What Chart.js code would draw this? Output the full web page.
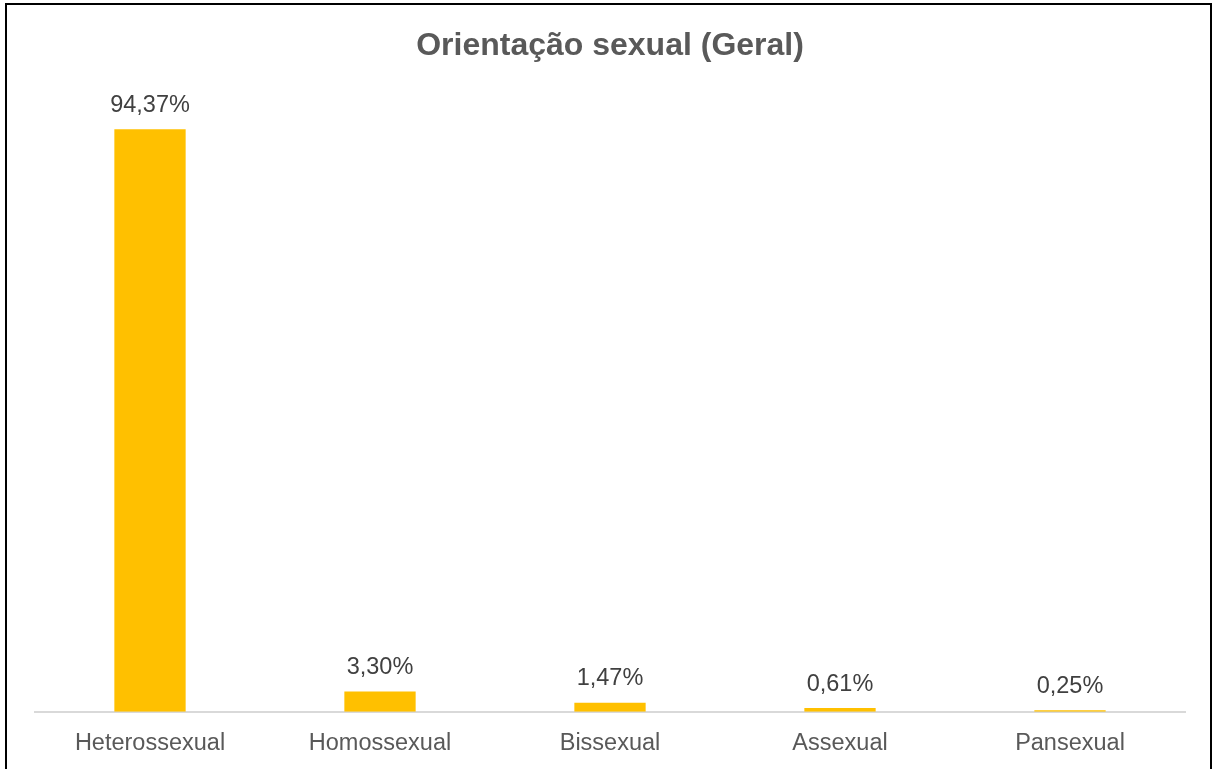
<!DOCTYPE html>
<html>
<head>
<meta charset="utf-8">
<script src="https://cdn.jsdelivr.net/npm/chart.js@4"></script>
<style>
html,body{margin:0;padding:0;background:#fff;}
#wrap{position:relative;width:1215px;height:769px;}
</style>
</head>
<body>
<div id="wrap"><canvas id="c" width="1215" height="769"></canvas></div>
<script>
const categories = ['Heterossexual', 'Homossexual', 'Bissexual', 'Assexual', 'Pansexual'];
const values = [94.37, 3.30, 1.47, 0.61, 0.25];
const chartTitle = 'Orientação sexual (Geral)';

const fontFamily = '"Liberation Sans", Arial, sans-serif';

const labelPlugin = {
  id: 'valueLabels',
  afterDatasetsDraw(chart) {
    const ctx = chart.ctx;
    const meta = chart.getDatasetMeta(0);
    ctx.save();
    ctx.font = '23.5px ' + fontFamily;
    ctx.fillStyle = '#404040';
    ctx.textAlign = 'center';
    ctx.textBaseline = 'middle';
    meta.data.forEach((bar, i) => {
      const txt = values[i].toFixed(2).replace('.', ',') + '%';
      ctx.fillText(txt, bar.x, bar.y - 24);
    });
    ctx.restore();
  }
};

const framePlugin = {
  id: 'frame',
  afterDraw(chart) {
    const ctx = chart.ctx;
    ctx.save();
    ctx.strokeStyle = '#000';
    ctx.lineWidth = 2;
    ctx.strokeRect(6, 4, 1205, 800);
    ctx.restore();
  }
};

new Chart(document.getElementById('c'), {
  type: 'bar',
  data: {
    labels: categories,
    datasets: [{
      data: values,
      backgroundColor: '#FFC000',
      borderWidth: 0,
      barPercentage: 0.31,
      categoryPercentage: 1.0
    }]
  },
  options: {
    responsive: false,
    animation: false,
    devicePixelRatio: 1,
    layout: { padding: { top: 3, left: 35, right: 30, bottom: -7 } },
    plugins: {
      legend: { display: false },
      tooltip: { enabled: false },
      title: {
        display: true,
        text: chartTitle,
        color: '#595959',
        font: { family: fontFamily, size: 32, weight: 'bold' },
        padding: { top: 24, bottom: 29 }
      }
    },
    scales: {
      y: {
        display: false,
        min: 0,
        max: 100
      },
      x: {
        grid: { display: false, drawTicks: false, tickLength: 0 },
        border: { display: true, color: '#d9d9d9', width: 2 },
        ticks: {
          color: '#595959',
          font: { family: fontFamily, size: 23.5 },
          padding: 18,
          maxRotation: 0
        }
      }
    }
  },
  plugins: [labelPlugin, framePlugin]
});
</script>
</body>
</html>
